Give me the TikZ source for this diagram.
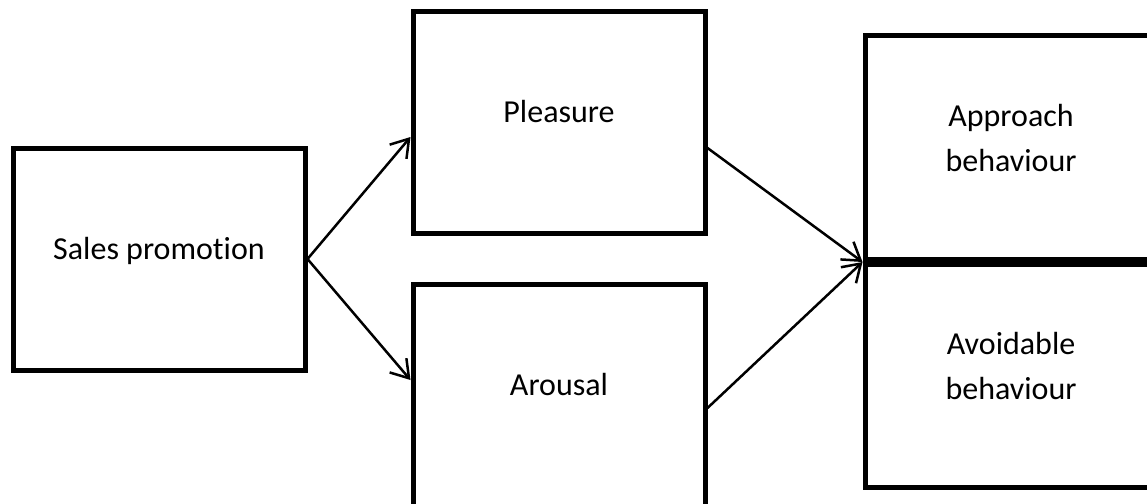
\documentclass[tikz,border=0pt]{standalone}
\usepackage{fontspec}
\setmainfont{Carlito}[Ligatures=NoCommon]
\usetikzlibrary{arrows.meta}

\begin{document}
\begin{tikzpicture}[
      x=1pt, y=-1pt,
      box/.style={draw, line width=5pt, minimum width=292pt, minimum height=222pt, inner sep=0pt},
      txt/.style={font=\fontsize{32}{45}\selectfont, align=center, inner sep=0pt},
      arr/.style={-{Straight Barb[length=17pt,width=22pt]}, line width=2.5pt}]
        \useasboundingbox (0,0) rectangle (1147,503);

        % boxes
        \node[box] (sales)    at (159,259)  {};
        \node[box] (pleasure) at (559,122.5) {};
        \node[box] (arousal)  at (559,395.5) {};
        \node[box, minimum height=223.5pt] (approach) at (1011,147.75) {};
        \node[box, minimum height=223.5pt] (avoid)    at (1011,375.75) {};

        % texts
        \node[txt, anchor=base] (salestxt)    at (sales.center)    {Sales promotion};
        \node[txt, anchor=base] (pleasuretxt) at (pleasure.center) {Pleasure};
        \node[txt, anchor=base] (arousaltxt)  at (arousal.center)  {Arousal};
        \node[txt] (approachtxt) at ([yshift=10pt]approach.center) {Approach\\behaviour};
        \node[txt] (avoidtxt)    at ([yshift=10pt]avoid.center)    {Avoidable\\behaviour};

        % arrows
        \draw[arr] (sales.east) -- ([yshift=-14.5pt]pleasure.west);
        \draw[arr] (sales.east) -- ([yshift=15.5pt]arousal.west);
        \draw[arr] ([yshift=-25.5pt]pleasure.east) -- (approach.south west);
        \draw[arr] ([yshift=-12.5pt]arousal.east) -- (approach.south west);

      \end{tikzpicture}
\end{document}
